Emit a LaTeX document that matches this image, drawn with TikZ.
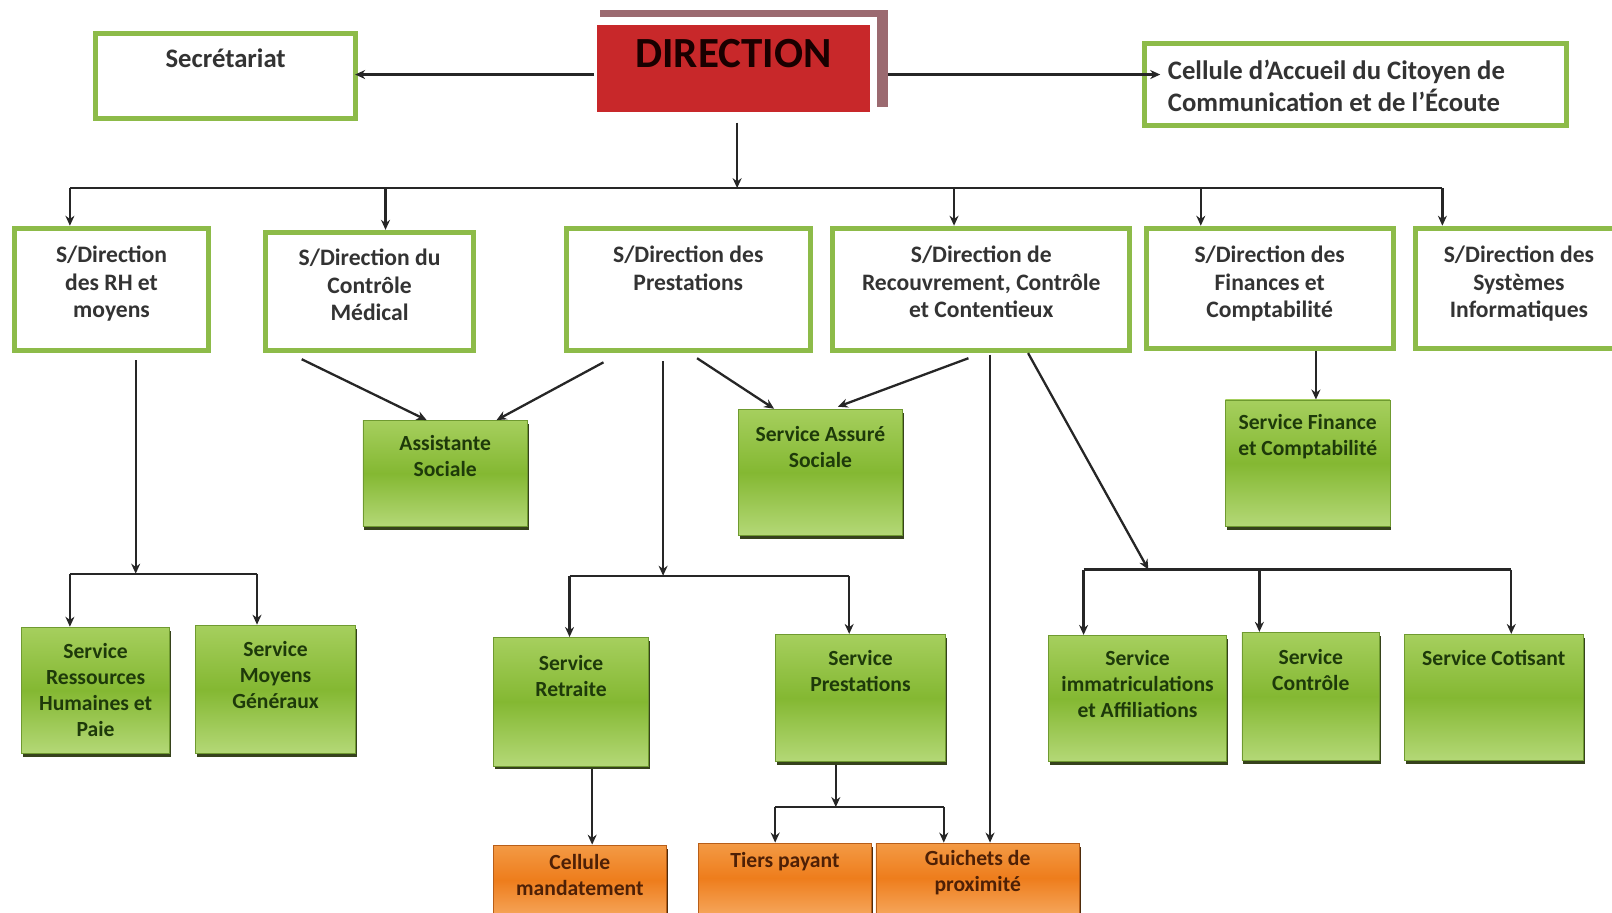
\documentclass[tikz,border=0pt]{standalone}
\usepackage{fontspec}
\setmainfont{Carlito}
\usetikzlibrary{arrows.meta,shadows}
\newdimen\uu \uu=1.028pt
\definecolor{gborder}{HTML}{8DBB49}
\definecolor{wtext}{HTML}{333333}
\definecolor{gA}{HTML}{A6CF5E}
\definecolor{gB}{HTML}{84B832}
\definecolor{gC}{HTML}{B4D877}
\definecolor{gedge}{HTML}{6F9A30}
\definecolor{gshadow}{HTML}{36421C}
\definecolor{gtext}{HTML}{1E3A0A}
\definecolor{oA}{HTML}{F39A45}
\definecolor{oB}{HTML}{EE7D1C}
\definecolor{oC}{HTML}{F5A458}
\definecolor{oedge}{HTML}{B85E18}
\definecolor{oshadow}{HTML}{4E2C0C}
\definecolor{otext}{HTML}{4E2006}
\definecolor{dred}{HTML}{C8282A}
\definecolor{mauve}{HTML}{9B6A70}
\definecolor{lc}{HTML}{262626}
\newcommand\bx[4]{\parbox[c][#2\uu][t]{#1\uu}{\centering\vspace*{#3\uu}#4\par}}
\newcommand\bxl[5]{\parbox[c][#2\uu][t]{#1\uu}{\raggedright\leftskip=#5\uu\vspace*{#3\uu}#4\par}}
\tikzset{
  wbox/.style={draw=gborder, line width=5pt, fill=white, inner sep=0pt, text=wtext,
    font=\fontsize{23.6pt}{27.8pt}\selectfont\bfseries},
  bigbox/.style={wbox, font=\fontsize{26.7pt}{31.9pt}\selectfont\bfseries},
  gbox/.style={shade, top color=gA, bottom color=gC, middle color=gB, draw=gedge, line width=0.8pt,
    inner sep=0pt, text=gtext, font=\fontsize{21.6pt}{26pt}\selectfont\bfseries,
    drop shadow={shadow xshift=1.5pt, shadow yshift=-3.5pt, fill=gshadow, opacity=1}},
  obox/.style={shade, top color=oA, bottom color=oC, middle color=oB, draw=oedge, line width=0.8pt,
    inner sep=0pt, text=otext, font=\fontsize{21.6pt}{25.5pt}\selectfont\bfseries,
    drop shadow={shadow xshift=1.5pt, shadow yshift=-3.5pt, fill=oshadow, opacity=1}},
  dirbox/.style={fill=dred, inner sep=0pt, text=black!90!red, font=\fontsize{43pt}{48pt}\selectfont\bfseries},
  conn/.style={draw=lc, line width=2.3pt},
  arr/.style={conn, -{Stealth[length=10pt,width=9pt]}},
}
\begin{document}
\begin{tikzpicture}[x=1.028pt,y=-1.028pt]
\useasboundingbox (0,0) rectangle (1568,888);
% top row
\node[bigbox] (sec) at (219.5,74) {\bx{253}{82}{14.5}{Secrétariat}};
\fill[mauve] (584,10) rectangle (864,104);
\fill[white] (575,17) rectangle (853,115);
\node[dirbox] (dir) at (713.5,66.5) {\bx{265}{85}{14.5}{DIRECTION}};
\node[bigbox] (cel) at (1318.5,82) {\bxl{411}{80}{16.5}{Cellule d’Accueil du Citoyen de\\Communication et de l’Écoute}{23}};
% S/Direction row
\node[wbox] (s1) at (108.5,281.5) {\bx{189}{119}{17}{S/Direction\\des RH et\\moyens}};
\node[wbox] (s2) at (359.5,283.5) {\bx{203}{115}{16}{S/Direction du\\Contrôle\\Médical}};
\node[wbox] (s3) at (669.5,281.5) {\bx{237}{119}{17}{S/Direction des\\Prestations}};
\node[wbox] (s4) at (954.5,281.5) {\bx{289}{119}{17}{S/Direction de\\Recouvrement, Contrôle\\et Contentieux}};
\node[wbox] (s5) at (1235,280.5) {\bx{240}{117}{17}{S/Direction des\\Finances et\\Comptabilité}};
\node[wbox] (s6) at (1477.5,280.5) {\bx{201}{117}{17}{S/Direction des\\Systèmes\\Informatiques}};
% green services
\node[gbox] (ass) at (433,460.5) {\bx{160}{103}{14.5}{Assistante\\Sociale}};
\node[gbox] (assu) at (798,459.5) {\bx{160}{123}{16.5}{Service Assuré\\Sociale}};
\node[gbox] (sfc) at (1272,450.5) {\bx{160}{123}{14.5}{Service Finance\\et Comptabilité}};
\node[gbox] (srh) at (93,671.5) {\bx{144}{123}{15.5}{Service\\Ressources\\Humaines et\\Paie}};
\node[gbox] (smg) at (268,670.5) {\bx{156}{125}{15.5}{Service\\Moyens\\Généraux}};
\node[gbox] (sret) at (555.5,682.5) {\bx{151}{125}{17.5}{Service\\Retraite}};
\node[gbox] (sprest) at (837,679) {\bx{166}{124}{15.5}{Service\\Prestations}};
\node[gbox] (simm) at (1106.5,679.5) {\bx{173}{123}{14.5}{Service\\immatriculations\\et Affiliations}};
\node[gbox] (sctrl) at (1275,677.5) {\bx{134}{125}{16.5}{Service\\Contrôle}};
\node[gbox] (scot) at (1453,678.5) {\bx{174}{123}{15.5}{Service Cotisant}};
% orange
\node[obox] (cman) at (564,856) {\bx{168}{68}{9.5}{Cellule\\mandatement}};
\node[obox] (tiers) at (763.5,854) {\bx{169}{68}{9.5}{Tiers payant}};
\node[obox] (guich) at (951,854) {\bx{198}{68}{7.5}{Guichets de\\proximité}};
% connectors: top
\draw[arr] ([shift={(-3,6)}]dir.west) -- ([shift={(-3,6)}]dir.west -| sec.east);
\draw[arr] ([shift={(18,6)}]dir.east) -- ([shift={(18,6)}]dir.east -| cel.west);
\coordinate (bus) at (717,183);
\coordinate (b1) at (68,183);
\coordinate (b2) at (375,183);
\coordinate (b4) at (928,183);
\coordinate (b5) at (1168,183);
\coordinate (b6) at (1403,183);
\draw[arr] ([shift={(0,10)}]dir.south -| bus) -- (bus);
\draw[conn] (b1) -- (b6);
\draw[arr] (b1) -- (b1 |- s1.north);
\draw[arr] (b2) -- (b2 |- s2.north);
\draw[arr] (b4) -- (b4 |- s4.north);
\draw[arr] (b5) -- (b5 |- s5.north);
\draw[arr] (b6) -- (b6 |- s6.north);
% RH branch
\coordinate (r0) at (132,558);
\coordinate (r1) at (68,558);
\coordinate (r2) at (250,558);
\draw[arr] (r0 |- s1.south) ++(0,7) -- (r0);
\draw[conn] (r1) -- (r2);
\draw[arr] (r1) -- (r1 |- srh.north);
\draw[arr] (r2) -- (r2 |- smg.north);
% Controle medical / prestations -> assistante
\draw[arr] ([shift={(-66,6)}]s2.south) -- ([shift={(-18,0)}]ass.north);
\draw[arr] ([shift={(-82.5,9)}]s3.south) -- ([shift={(50,0)}]ass.north);
\draw[arr] ([shift={(8.5,5)}]s3.south) -- ([shift={(-45,0)}]assu.north);
% prestations branch
\coordinate (p0) at (645,560);
\coordinate (p1) at (554,560);
\coordinate (p2) at (826,560);
\draw[arr] (p0 |- s3.south) ++(0,8) -- (p0);
\draw[conn] (p1) -- (p2);
\draw[arr] (p1) -- (p1 |- sret.north);
\draw[arr] (p2) -- (p2 |- sprest.north);
% recouvrement
\draw[arr] ([shift={(-12.5,5)}]s4.south) -- ([shift={(17,-2)}]assu.north);
\coordinate (gx) at (963,345);
\draw[arr] (gx) -- (gx |- guich.north);
\coordinate (c0) at (1117,554);
\coordinate (c1) at (1054,554);
\coordinate (c2) at (1225,554);
\coordinate (c3) at (1470,554);
\draw[arr] ([shift={(45.5,0)}]s4.south) -- (c0);
\draw[conn] (c1) -- (c3);
\draw[arr] (c1) -- (c1 |- simm.north);
\draw[arr] (c2) -- (c2 |- sctrl.north);
\draw[arr] (c3) -- (c3 |- scot.north);
% finances
\coordinate (fx) at (1280,341);
\draw[arr] (fx |- s5.south) -- (fx |- sfc.north);
% retraite -> cellule
\coordinate (mx) at (576,748);
\draw[arr] (mx |- sret.south) ++(0,3) -- (mx |- cman.north);
% service prestations -> tiers / guichets
\coordinate (t0) at (813,785);
\coordinate (t1) at (754,785);
\coordinate (t2) at (918,785);
\draw[arr] (t0 |- sprest.south) ++(0,3) -- (t0);
\draw[conn] (t1) -- (t2);
\draw[arr] (t1) -- (t1 |- tiers.north);
\draw[arr] (t2) -- (t2 |- guich.north);
\end{tikzpicture}
\end{document}
